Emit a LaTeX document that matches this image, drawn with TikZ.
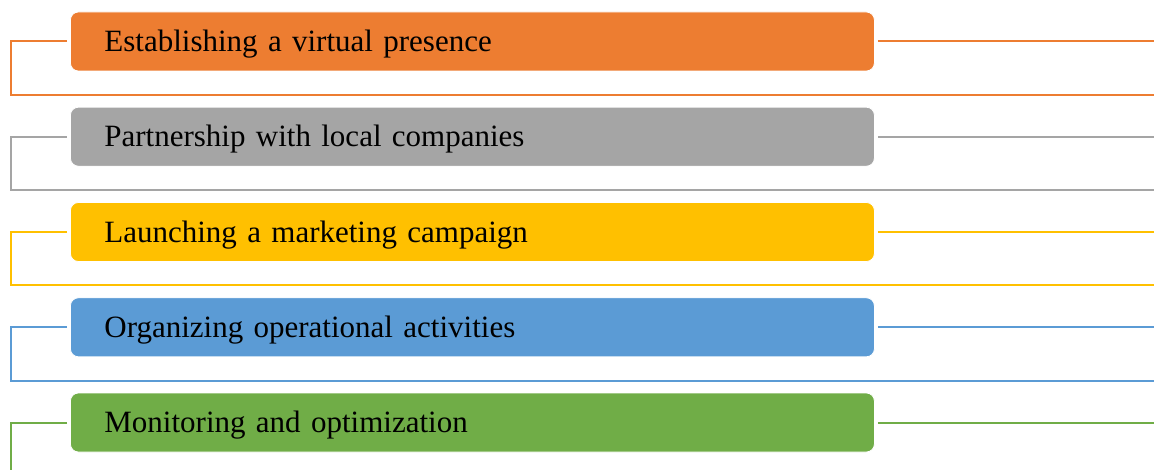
\documentclass[tikz,border=0pt]{standalone}
\usepackage{fontspec}
\setmainfont{Liberation Serif}
\definecolor{accOrange}{HTML}{ED7D31}
\definecolor{accGray}{HTML}{A5A5A5}
\definecolor{accGold}{HTML}{FFC000}
\definecolor{accBlue}{HTML}{5B9BD5}
\definecolor{accGreen}{HTML}{70AD47}
\begin{document}
\begin{tikzpicture}[x=1pt,y=-1pt,
  bar/.style={rounded corners=8pt, fill=#1, draw=white, line width=0.8pt,
    minimum width=804pt, minimum height=59pt, inner sep=0pt,
    text width=736pt, align=left, anchor=west,
    text height=24pt, text depth=3.6pt,
    font=\fontsize{31}{36}\selectfont},
  link/.style={draw=#1, line width=2pt}]
\useasboundingbox (0,0) rectangle (1154,470);

% step bars
\node[bar=accOrange] (b1) at (70,41.5)  {Establishing a virtual presence};
\node[bar=accGray]   (b2) at (70,136.7) {Partnership with local companies};
\node[bar=accGold]   (b3) at (70,232)   {Launching a marketing campaign};
\node[bar=accBlue]   (b4) at (70,327.3) {Organizing operational activities};
\node[bar=accGreen]  (b5) at (70,422.5) {Monitoring and optimization};

% anchor points of the frame lines
\foreach \i/\y in {1/41.5,2/136.7,3/232,4/327.3,5/422.5}{
  \coordinate (l\i) at (11,\y);
  \coordinate (r\i) at (1154,\y);
}
\foreach \i/\y in {1/94.8,2/190,3/285.3,4/380.5}{
  \coordinate (d\i) at (11,\y);
  \coordinate (e\i) at (1154,\y);
}
\coordinate (d5) at (11,470);

% frame lines around each bar
\foreach \i/\c in {1/accOrange,2/accGray,3/accGold,4/accBlue}{
  \draw[link=\c, shorten <=3pt] (b\i.west) -- (l\i) -- (d\i) -- (e\i);
  \draw[link=\c, shorten <=3pt] (b\i.east) -- (r\i);
}
\draw[link=accGreen, shorten <=3pt] (b5.west) -- (l5) -- (d5);
\draw[link=accGreen, shorten <=3pt] (b5.east) -- (r5);
\end{tikzpicture}
\end{document}
